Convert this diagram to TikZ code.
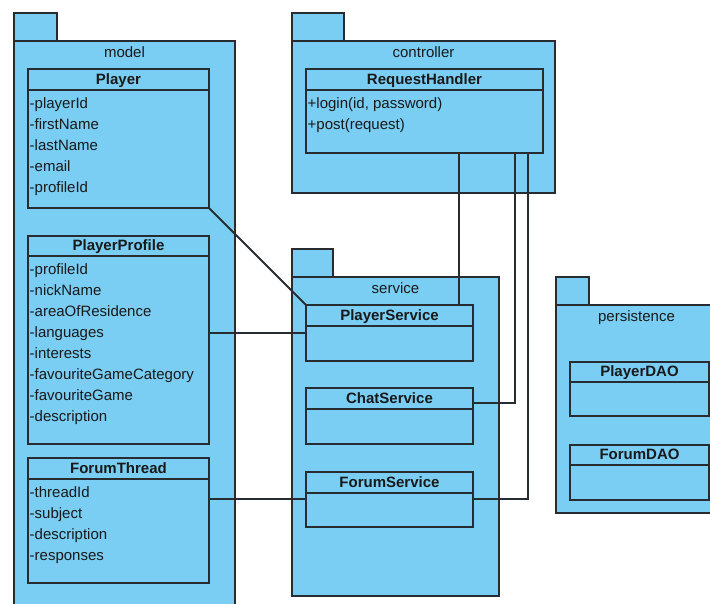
\documentclass[tikz,border=0pt]{standalone}
\usepackage{fontspec}
\setmainfont{Liberation Sans}
\usetikzlibrary{positioning}
\definecolor{pkgblue}{RGB}{122,206,244}
\definecolor{umlline}{RGB}{38,44,48}
\definecolor{umltext}{RGB}{25,25,25}

\begin{document}
\begin{tikzpicture}[x=1pt, y=-1pt, font=\fontsize{15}{21}\selectfont, text=umltext,
	pkg/.style={draw=umlline, fill=pkgblue, line width=1.1pt, anchor=north west, inner sep=0pt, outer sep=0pt},
	pkgname/.style={anchor=north, inner sep=0pt, text height=11pt, text depth=3pt, yshift=-5pt},
	chead/.style={draw=umlline, fill=pkgblue, line width=1.3pt, anchor=north west, minimum height=21, inner sep=0pt, outer sep=0pt, font=\fontsize{15}{21}\selectfont\bfseries, text height=11pt, text depth=2pt},
	cbody/.style={draw=umlline, fill=pkgblue, line width=1.3pt, inner sep=0pt, outer sep=0pt},
	attrs/.style={anchor=north west, align=left, inner sep=0pt, xshift=1.5pt, yshift=-7pt},
	link/.style={draw=umlline, line width=1.1pt}]
	\useasboundingbox (0,0) rectangle (710,603);
	\clip (0,0) rectangle (710,603);
	\node[pkg, minimum width=43, minimum height=28] (mtab) at (14,13) {};
	\node[pkg, minimum width=221, minimum height=600, label={[pkgname]north:model}] (model) at (14,41) {};
	\node[pkg, minimum width=52, minimum height=28] (ctab) at (292,13) {};
	\node[pkg, minimum width=263, minimum height=152, label={[pkgname]north:controller}] (controller) at (292,41) {};
	\node[pkg, minimum width=41, minimum height=28] (stab) at (292,249) {};
	\node[pkg, minimum width=207, minimum height=319, label={[pkgname]north:service}] (service) at (292,277) {};
	\node[pkg, minimum width=33, minimum height=28] (ptab) at (556,277) {};
	\node[pkg, minimum width=161, minimum height=208, label={[pkgname]north:persistence}] (persistence) at (556,305) {};
	\node[chead, minimum width=181] (plhead) at (28,69) {Player};
	\node[cbody, minimum width=181, minimum height=118, below=0pt of plhead] (plbody) {};
	\node[attrs] (platt) at (plbody.north west) {-playerId\\-firstName\\-lastName\\-email\\-profileId};
	\node[chead, minimum width=181, minimum height=20] (pphead) at (28,236) {PlayerProfile};
	\node[cbody, minimum width=181, minimum height=188, below=0pt of pphead] (ppbody) {};
	\node[attrs] (ppatt) at (ppbody.north west) {-profileId\\-nickName\\-areaOfResidence\\-languages\\-interests\\-favouriteGameCategory\\-favouriteGame\\-description};
	\node[chead, minimum width=181] (fthead) at (28,458) {ForumThread};
	\node[cbody, minimum width=181, minimum height=104, below=0pt of fthead] (ftbody) {};
	\node[attrs] (ftatt) at (ftbody.north west) {-threadId\\-subject\\-description\\-responses};
	\node[chead, minimum width=237] (rhhead) at (306,69) {RequestHandler};
	\node[cbody, minimum width=237, minimum height=63, below=0pt of rhhead] (rhbody) {};
	\node[attrs] (rhops) at (rhbody.north west) {+login(id, password)\\+post(request)};
	\node[chead, minimum width=167] (pshead) at (306,305) {PlayerService};
	\node[cbody, minimum width=167, minimum height=35, below=0pt of pshead] (psbody) {};
	\node[chead, minimum width=167] (cshead) at (306,388) {ChatService};
	\node[cbody, minimum width=167, minimum height=35, below=0pt of cshead] (csbody) {};
	\node[chead, minimum width=167] (fshead) at (306,472) {ForumService};
	\node[cbody, minimum width=167, minimum height=34, below=0pt of fshead] (fsbody) {};
	\node[chead, minimum width=139, minimum height=20] (pdhead) at (570,362) {PlayerDAO};
	\node[cbody, minimum width=139, minimum height=34, below=0pt of pdhead] (pdbody) {};
	\node[chead, minimum width=139, minimum height=20] (fdhead) at (570,445) {ForumDAO};
	\node[cbody, minimum width=139, minimum height=35, below=0pt of fdhead] (fdbody) {};
	\draw[link, line width=2pt] (plbody.south east) -- (pshead.north west);
	\draw[link] ([yshift=10.5pt]psbody.west) -- ([yshift=10.5pt]psbody.west -| ppbody.east);
	\draw[link] ([yshift=11pt]fsbody.west) -- ([yshift=11pt]fsbody.west -| ftbody.east);
	\draw[link] ([xshift=-14pt]pshead.north east) -- ([xshift=-14pt]pshead.north east |- rhbody.south);
	\draw[link] ([yshift=-4.5pt]cshead.east) -| ([xshift=-28pt]rhbody.south east);
	\draw[link] ([yshift=11pt]fsbody.east) -| ([xshift=-15pt]rhbody.south east);
\end{tikzpicture}
\end{document}
